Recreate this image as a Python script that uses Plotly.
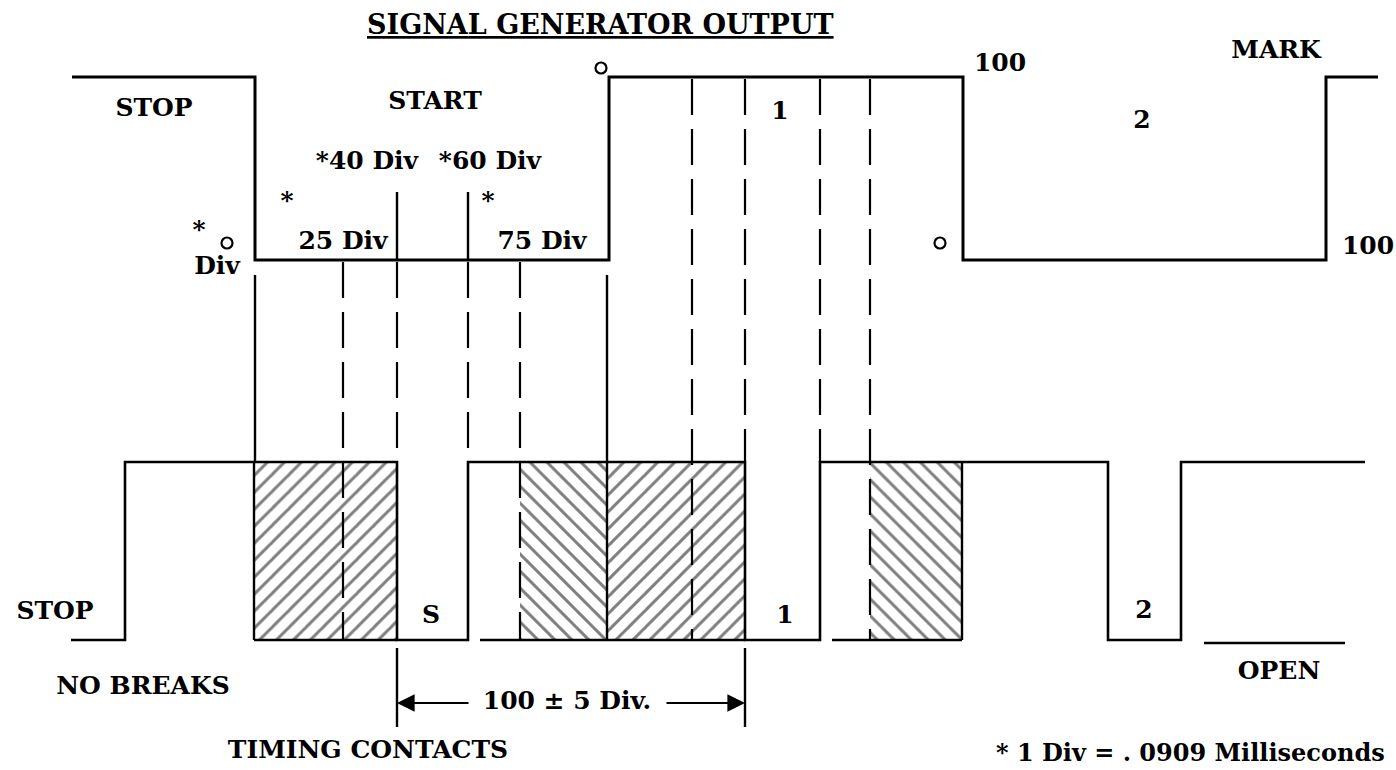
import plotly.graph_objects as go

# ---------------- data (drawing units: x across, y down) ----------------
# Signal generator output waveform
top_x = [72, 255, 255, 609, 609, 963, 963, 1326, 1326, 1378]
top_y = [77, 77, 260, 260, 77, 77, 260, 260, 77, 77]

# Timing contacts waveform
bot_x = [71, 125, 125, 397, 397, 468, 468, 745, 745, 820, 820, 1108, 1108, 1181, 1181, 1365]
bot_y = [640, 640, 462, 462, 640, 640, 462, 462, 640, 640, 462, 462, 640, 640, 462, 462]

# Extra solid segments
solid_x0 = [254, 254, 480, 520, 607, 832, 870, 962, 1204, 255, 397, 468, 607, 397, 745]
solid_y0 = [462, 640, 640, 640, 462, 640, 640, 462, 643, 275, 192, 192, 275, 648, 648]
solid_x1 = [254, 397, 520, 745, 607, 870, 962, 962, 1345, 255, 397, 468, 607, 397, 745]
solid_y1 = [640, 640, 640, 640, 640, 640, 640, 640, 643, 462, 260, 260, 462, 727, 727]

# Dashed division lines
dash_x = [343, 397, 468, 520, 692, 745, 820, 870]
dash_y0 = [262, 262, 262, 262, 79, 79, 79, 79]
dash_y1 = [640, 462, 462, 640, 640, 462, 462, 640]

# Hatched (uncertain contact) zones
hatch_x0 = [254, 520, 607, 870]
hatch_x1 = [397, 607, 745, 962]
hatch_shape = ["/", "\\", "/", "\\"]
hatch_top, hatch_bot = 462, 640

# Small open circles
circ_x = [601, 227, 940]
circ_y = [68, 243, 243]

# Labels
lab_x = [154, 435, 367, 490, 287, 488, 343, 542, 199, 217, 780, 1142, 1000, 1276, 1368,
         55, 431, 785, 1144, 143, 1279, 567, 368]
lab_y = [110, 103, 163, 163, 203, 203, 243, 243, 232, 268, 113, 122, 65, 52, 248,
         613, 617, 617, 612, 688, 673, 703, 752]
lab_t = ["STOP", "START", "*40 Div", "*60 Div", "*", "*", "25 Div", "75 Div", "*", "Div",
         "1", "2", "100", "MARK", "100",
         "STOP", "S", "1", "2", "NO BREAKS", "OPEN", "100 ± 5 Div.", "TIMING CONTACTS"]

note_text = "* 1 Div = . 0909 Milliseconds"
note_x, note_y = 1190, 752

title_text = "SIGNAL GENERATOR OUTPUT"
title_x, title_y = 600, 24

# Dimension arrow: (head x, tail x, y)
arr_head = [397, 745]
arr_tail = [470, 665]
arr_y = 703

FONT = "DejaVu Serif"
INK = "#000000"

fig = go.Figure()

# hatched zones
for x0, x1, sh in zip(hatch_x0, hatch_x1, hatch_shape):
    fig.add_trace(go.Scatter(
        x=[x0, x1, x1, x0, x0], y=[hatch_top, hatch_top, hatch_bot, hatch_bot, hatch_top],
        mode="lines", line=dict(width=0, color="white"), fill="toself", fillcolor="white",
        fillpattern=dict(shape=sh, size=12, solidity=0.25, fgcolor=INK, bgcolor="white"),
        hoverinfo="skip"))

# dashed lines
dx, dy = [], []
for x, a, b in zip(dash_x, dash_y0, dash_y1):
    dx += [x, x, None]
    dy += [a, b, None]
fig.add_trace(go.Scatter(x=dx, y=dy, mode="lines",
                         line=dict(color=INK, width=2.2, dash="36px,14px"), hoverinfo="skip"))

# solid extra segments
sx, sy = [], []
for a, b, c, d in zip(solid_x0, solid_y0, solid_x1, solid_y1):
    sx += [a, c, None]
    sy += [b, d, None]
fig.add_trace(go.Scatter(x=sx, y=sy, mode="lines", line=dict(color=INK, width=2.4),
                         hoverinfo="skip"))

# waveforms
fig.add_trace(go.Scatter(x=top_x, y=top_y, mode="lines", line=dict(color=INK, width=3),
                         hoverinfo="skip"))
fig.add_trace(go.Scatter(x=bot_x, y=bot_y, mode="lines", line=dict(color=INK, width=2.6),
                         hoverinfo="skip"))

# circles
fig.add_trace(go.Scatter(x=circ_x, y=circ_y, mode="markers",
                         marker=dict(symbol="circle-open", size=11, color=INK, line=dict(width=2.2)),
                         hoverinfo="skip"))

# labels
fig.add_trace(go.Scatter(x=lab_x, y=lab_y, mode="text", text=lab_t,
                         textfont=dict(family=FONT, size=25, color=INK, weight="bold"),
                         textposition="middle center", hoverinfo="skip"))

annotations = [
    dict(x=title_x, y=title_y, xref="x", yref="y", text="<u>" + title_text + "</u>",
         showarrow=False, font=dict(family=FONT, size=27, color=INK, weight="bold")),
    dict(x=note_x, y=note_y, xref="x", yref="y", text=note_text,
         showarrow=False, font=dict(family=FONT, size=24, color=INK, weight="bold")),
]
for h, t in zip(arr_head, arr_tail):
    annotations.append(dict(x=h, y=arr_y, ax=t, ay=arr_y, xref="x", yref="y", axref="x", ayref="y",
                            text="", showarrow=True, arrowhead=2, arrowsize=1.6, arrowwidth=2.2,
                            arrowcolor=INK))

fig.update_layout(
    width=1396, height=770, margin=dict(l=0, r=0, t=0, b=0),
    paper_bgcolor="white", plot_bgcolor="white", showlegend=False,
    xaxis=dict(range=[0, 1396], visible=False, fixedrange=True),
    yaxis=dict(range=[770, 0], visible=False, fixedrange=True),
    annotations=annotations,
)

fig.write_html("out.html", config={"displayModeBar": False},
               post_script="document.body.style.margin='0';document.body.style.overflow='hidden';")
